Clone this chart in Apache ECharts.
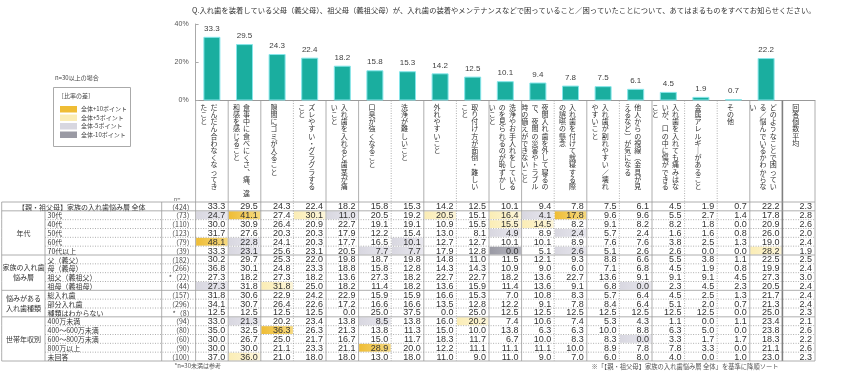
<!DOCTYPE html>
<html><head><meta charset="utf-8">
<script src="https://cdn.jsdelivr.net/npm/echarts@6/dist/echarts.min.js"></script>
<style>html,body{margin:0;padding:0;background:#fff}#c{width:850px;height:374px}</style>
</head><body><div id="c"></div><script>
// ---------- data ----------
const titleText = 'Q.入れ歯を装着している父母（義父母）、祖父母（義祖父母）が、入れ歯の装着やメンテナンスなどで困っていること／困っていたことについて、あてはまるものをすべてお知らせください。';
const categories = [
  'だんだん合わなくなってき\nたこと',
  '食事中に食べにくさ、痛、違\n和感を感じること',
  '隙間にゴミが入ること',
  'ズレやすい・グラグラする\nこと',
  '入れ歯を入れると歯茎が痛\nいこと',
  '口臭が強くなること',
  '洗浄が難しいこと',
  '外れやすいこと',
  '取り付け方が面倒・難しい\nこと',
  '洗浄やお手入れをしている\nのを見られるのが恥ずかし\nいこと',
  '夜間入れ歯を外して寝るの\nで、夜間の災害やトラブル\n時の備えができないこと',
  '入れ歯を付けて就寝する際\nの誤嚥の懸念',
  '入れ歯が割れやすい／壊れ\nやすいこと',
  '他人からの視線（金具が見\nえるなど）が気になる',
  '入れ歯を入れても痛みはな\nいが、口の中に傷ができる\nこと',
  '金属アレルギーがあること',
  'その他',
  'どのようなことで困ってい\nる／悩んでいるかわからな\nい',
  '回答個数平均'
];
const overallBars = [33.3, 29.5, 24.3, 22.4, 18.2, 15.8, 15.3, 14.2, 12.5, 10.1, 9.4, 7.8, 7.5, 6.1, 4.5, 1.9, 0.7, 22.2];
const overallAvg = 2.3;
const yTickLabels = ['0%', '20%', '40%'];

const rowLabels = ['【親・祖父母】家族の入れ歯悩み層 全体', '30代', '40代', '50代', '60代', '70代以上',
  '父（義父）', '母（義母）', '祖父（義祖父）', '祖母（義祖母）',
  '総入れ歯', '部分入れ歯', '種類はわからない',
  '400万未満', '400～600万未満', '600～800万未満', '800万以上', '未回答'];
const rowN = [424, 73, 110, 123, 79, 39, 182, 266, 22, 44, 157, 296, 8, 94, 80, 60, 90, 100];
const groupLabels = ['年代', '家族の入れ歯\n悩み層', '悩みがある\n入れ歯種類', '世帯年収別'];
const groupRanges = [[1, 5], [6, 9], [10, 12], [13, 17]];

const age30 = [24.7, 41.1, 27.4, 30.1, 11.0, 20.5, 19.2, 20.5, 15.1, 16.4, 4.1, 17.8, 9.6, 9.6, 5.5, 2.7, 1.4, 17.8, 2.8];
const age40 = [30.0, 30.9, 26.4, 20.9, 22.7, 19.1, 19.1, 10.9, 15.5, 15.5, 14.5, 8.2, 9.1, 8.2, 8.2, 1.8, 0.0, 20.9, 2.6];
const age50 = [31.7, 27.6, 20.3, 20.3, 17.9, 12.2, 15.4, 13.0, 8.1, 4.9, 8.9, 2.4, 5.7, 2.4, 1.6, 1.6, 0.8, 26.0, 2.0];
const age60 = [48.1, 22.8, 24.1, 20.3, 17.7, 16.5, 10.1, 12.7, 12.7, 10.1, 10.1, 8.9, 7.6, 7.6, 3.8, 2.5, 1.3, 19.0, 2.4];
const age70 = [33.3, 23.1, 25.6, 23.1, 20.5, 7.7, 7.7, 17.9, 12.8, 0.0, 5.1, 2.6, 5.1, 2.6, 2.6, 0.0, 0.0, 28.2, 1.9];
const father = [30.2, 29.7, 25.3, 22.0, 19.8, 18.7, 19.8, 14.8, 11.0, 11.5, 12.1, 9.3, 8.8, 6.6, 5.5, 3.8, 1.1, 22.5, 2.5];
const mother = [36.8, 30.1, 24.8, 23.3, 18.8, 15.8, 12.8, 14.3, 14.3, 10.9, 9.0, 6.0, 7.1, 6.8, 4.5, 1.9, 0.8, 19.9, 2.4];
const grandfather = [27.3, 18.2, 27.3, 18.2, 13.6, 27.3, 18.2, 22.7, 22.7, 18.2, 13.6, 22.7, 13.6, 9.1, 9.1, 9.1, 4.5, 27.3, 3.0];
const grandmother = [27.3, 31.8, 31.8, 25.0, 18.2, 11.4, 18.2, 13.6, 15.9, 11.4, 13.6, 9.1, 6.8, 0.0, 2.3, 4.5, 2.3, 20.5, 2.4];
const fullDenture = [31.8, 30.6, 22.9, 24.2, 22.9, 15.9, 15.9, 16.6, 15.3, 7.0, 10.8, 8.3, 5.7, 6.4, 4.5, 2.5, 1.3, 21.7, 2.4];
const partialDenture = [34.1, 30.7, 26.4, 22.6, 17.2, 16.6, 16.6, 13.5, 12.8, 12.2, 9.1, 7.8, 8.4, 6.4, 5.1, 2.0, 0.7, 21.3, 2.4];
const typeUnknown = [12.5, 12.5, 12.5, 12.5, 0.0, 25.0, 37.5, 0.0, 25.0, 12.5, 12.5, 12.5, 12.5, 12.5, 12.5, 12.5, 0.0, 25.0, 2.3];
const incUnder400 = [33.0, 21.3, 20.2, 23.4, 13.8, 8.5, 13.8, 16.0, 20.2, 7.4, 10.6, 7.4, 5.3, 4.3, 1.1, 0.0, 1.1, 23.4, 2.1];
const inc400to600 = [35.0, 32.5, 36.3, 26.3, 21.3, 13.8, 11.3, 15.0, 10.0, 13.8, 6.3, 6.3, 10.0, 8.8, 6.3, 5.0, 0.0, 23.8, 2.6];
const inc600to800 = [30.0, 26.7, 25.0, 21.7, 16.7, 15.0, 11.7, 18.3, 11.7, 6.7, 10.0, 8.3, 8.3, 0.0, 3.3, 1.7, 1.7, 18.3, 2.2];
const inc800plus = [30.0, 30.0, 21.1, 23.3, 21.1, 28.9, 20.0, 12.2, 11.1, 11.1, 11.1, 10.0, 8.9, 7.8, 7.8, 3.3, 0.0, 21.1, 2.6];
const incNoAnswer = [37.0, 36.0, 21.0, 18.0, 18.0, 13.0, 18.0, 11.0, 9.0, 11.0, 9.0, 7.0, 6.0, 8.0, 4.0, 0.0, 1.0, 23.0, 2.3];

const legendTexts = ['全体+10ポイント', '全体+5ポイント', '全体-5ポイント', '全体-10ポイント'];

// ---------- build ----------
const tableRows = [overallBars.concat([overallAvg]), age30, age40, age50, age60, age70, father, mother,
  grandfather, grandmother, fullDenture, partialDenture, typeUnknown,
  incUnder400, inc400to600, inc600to800, inc800plus, incNoAnswer];

const FONT = "'Noto Sans CJK JP', 'Noto Sans', sans-serif";
const NUMFONT = "'Liberation Sans', Arial, sans-serif";
const LINE = '#9a9a9a';
const LEVEL_COLORS = {
  '2': ['#efbd35', '#f6d97f'],
  '1': ['#fbedb5', '#fdf6da'],
  '-1': ['#d8d7e0', '#e9e8ef'],
  '-2': ['#9a9aa4', '#b7b7c0']
};
const LABEL_BOX_H = 101.5;
const groupStarts = [0, 1, 6, 10, 13];
// column boundary styles: 0 solid, 1 dotted, 2 thick
const colBoundaryStyle = [0, 0, 0, 1, 0, 0, 1, 0, 1, 0, 0, 1, 0, 1, 0, 1, 1, 0, 2, 0];

function level(r, c) {
  if (r === 0 || c === 18 || rowN[r] < 30) return 0;
  const d = Math.round((tableRows[r][c] - tableRows[0][c]) * 10) / 10;
  if (d >= 10) return 2;
  if (d >= 5) return 1;
  if (d <= -10) return -2;
  if (d <= -5) return -1;
  return 0;
}

const cellData = [];
tableRows.forEach((row, r) => row.forEach((v, c) => cellData.push([c, r, v, level(r, c)])));
const vLineData = colBoundaryStyle.map((st, k) => k < 19 ? [k, 0, st, 0] : [18, 0, st, 1]);
const hLineData = [];
for (let r = 0; r <= 18; r++) {
  const st = (groupStarts.includes(r) || r === 18) ? 0 : 1;
  hLineData.push(r < 18 ? [0, r, st, 0] : [0, 17, st, 1]);
}
const leftRowData = rowLabels.map((_, r) => [0, r]);
const groupData = groupRanges.map((g, i) => [0, g[0], g[1], i]);

const VMAP = {'ー': '｜', '（': '︵', '）': '︶', '、': '︑', '「': '﹁', '」': '﹂'};
function verticalize(s) {
  const cols = s.split('\n').map(c => Array.from(c).map(ch => VMAP[ch] || ch));
  const n = Math.max.apply(null, cols.map(c => c.length));
  const lines = [];
  for (let i = 0; i < n; i++) {
    const parts = [];
    for (let j = cols.length - 1; j >= 0; j--) parts.push(cols[j][i] || '\u3000');
    lines.push(parts.join('  '));
  }
  return lines.join('\n');
}

function ln(x1, y1, x2, y2, st) {
  const style = {stroke: st === 2 ? '#808080' : LINE, lineWidth: st === 2 ? 1.6 : 0.8};
  if (st === 1) style.lineDash = [1, 1.5];
  return {type: 'line', shape: {x1, y1, x2, y2}, style};
}

const chart = echarts.init(document.getElementById('c'), null, {renderer: 'canvas'});
chart.setOption({
  animation: false,
  backgroundColor: '#fff',
  title: {
    text: titleText, left: 187, top: 2,
    textStyle: {fontSize: 7.3, fontWeight: 'normal', color: '#333', fontFamily: FONT}
  },
  grid: [
    {left: 195.6, width: 619.4, top: 24, height: 76.5},
    {left: 195.6, width: 619.4, top: 202, height: 159},
    {left: 1.7, width: 193.9, top: 202, height: 159}
  ],
  xAxis: [
    {
      type: 'category', gridIndex: 0, data: categories,
      axisLine: {show: true, lineStyle: {color: '#999', width: 1}},
      axisTick: {show: false},
      axisLabel: {
        interval: 0, fontSize: 7, lineHeight: 7.2, margin: 3, color: '#333',
        fontFamily: FONT, padding: [0, 6, 0, 0], formatter: v => verticalize(v)
      }
    },
    {type: 'category', gridIndex: 1, data: categories.map((_, i) => i), show: false},
    {type: 'value', gridIndex: 2, min: 0, max: 193.9, show: false}
  ],
  yAxis: [
    {
      type: 'value', gridIndex: 0, min: 0, max: 40, interval: 20,
      axisLine: {show: true, lineStyle: {color: '#aaa'}},
      axisTick: {show: true, inside: true, length: 3, lineStyle: {color: '#aaa'}},
      splitLine: {show: false},
      axisLabel: {fontSize: 7, color: '#555', margin: 7, fontFamily: NUMFONT,
        formatter: v => yTickLabels[v / 20]}
    },
    {type: 'category', gridIndex: 1, data: rowLabels, inverse: true, show: false},
    {type: 'category', gridIndex: 2, data: rowLabels, inverse: true, show: false}
  ],
  series: [
    {
      type: 'bar', xAxisIndex: 0, yAxisIndex: 0,
      data: overallBars.concat(['-']),
      barWidth: 17,
      itemStyle: {color: '#1aae9f', borderColor: '#86e6ea', borderWidth: 1},
      label: {show: true, position: 'top', distance: 4, fontSize: 8, color: '#404040',
        fontFamily: NUMFONT, formatter: p => p.value.toFixed(1)}
    },
    {
      type: 'custom', xAxisIndex: 1, yAxisIndex: 1, data: cellData, silent: true, clip: false,
      renderItem: function (params, api) {
        const v = api.value(2), lv = api.value(3);
        const c = api.coord([api.value(0), api.value(1)]);
        const s = api.size([1, 1]);
        const x0 = c[0] - s[0] / 2, y0 = c[1] - s[1] / 2;
        const children = [];
        if (lv !== 0) {
          const cc = LEVEL_COLORS[String(lv)];
          children.push({type: 'rect', shape: {x: x0 + 0.5, y: y0 + 0.5, width: s[0] - 1, height: s[1] - 1},
            style: {fill: new echarts.graphic.LinearGradient(0, 0, 1, 0, [{offset: 0, color: cc[0]}, {offset: 1, color: cc[1]}])}});
        }
        children.push({type: 'text', style: {text: v.toFixed(1), x: x0 + s[0] - 3, y: c[1] + 0.5,
          align: 'right', verticalAlign: 'middle', fontSize: 9, fontFamily: NUMFONT, fill: '#333'}});
        return {type: 'group', children};
      }
    },
    {
      type: 'custom', xAxisIndex: 1, yAxisIndex: 1, data: vLineData, silent: true, clip: false,
      renderItem: function (params, api) {
        const cs = params.coordSys;
        const cw = api.size([1, 0])[0];
        const cx = api.coord([api.value(0), 0])[0];
        const x = api.value(3) ? cx + cw / 2 : cx - cw / 2;
        return ln(x, cs.y - LABEL_BOX_H, x, cs.y + cs.height, api.value(2));
      }
    },
    {
      type: 'custom', xAxisIndex: 1, yAxisIndex: 1, data: hLineData, silent: true, clip: false,
      renderItem: function (params, api) {
        const cs = params.coordSys;
        const rh = api.size([0, 1])[1];
        const cy = api.coord([0, api.value(1)])[1];
        const y = api.value(3) ? cy + rh / 2 : cy - rh / 2;
        return ln(cs.x, y, cs.x + cs.width, y, api.value(2));
      }
    },
    {
      type: 'custom', xAxisIndex: 2, yAxisIndex: 2, data: leftRowData, silent: true, clip: false,
      renderItem: function (params, api) {
        const r = api.value(1);
        const cs = params.coordSys;
        const c = api.coord([0, r]);
        const h = api.size([0, 1])[1];
        const top = c[1] - h / 2, bot = c[1] + h / 2;
        const L = cs.x, R = cs.x + cs.width, xA = L + 43.3, xN = L + 160;
        const gs = groupStarts.includes(r);
        const ch = [];
        ch.push(ln(gs ? L : xA, top, R, top, gs ? 0 : 1));
        if (r === rowLabels.length - 1) ch.push(ln(L, bot, R, bot, 0));
        ch.push(ln(L, top, L, bot, 0));
        if (r > 0) ch.push(ln(xA, top, xA, bot, 0));
        ch.push(ln(xN, top, xN, bot, 0));
        if (r === 0) {
          ch.push({type: 'text', style: {text: rowLabels[r], x: L + 80, y: c[1] + 0.5, align: 'center',
            verticalAlign: 'middle', fontSize: 7, fontFamily: FONT, fill: '#333'}});
        } else {
          ch.push({type: 'text', style: {text: rowLabels[r], x: xA + 2.5, y: c[1] + 0.5, align: 'left',
            verticalAlign: 'middle', fontSize: 7, fontFamily: FONT, fill: '#333'}});
        }
        ch.push({type: 'text', style: {text: (rowN[r] < 30 ? '*' : '') + '（' + rowN[r] + '）', x: L + 192, y: c[1] + 0.5,
          align: 'right', verticalAlign: 'middle', fontSize: 7, fontFamily: FONT, fill: '#444'}});
        return {type: 'group', children: ch};
      }
    },
    {
      type: 'custom', xAxisIndex: 2, yAxisIndex: 2, data: groupData, silent: true, clip: false,
      renderItem: function (params, api) {
        const cs = params.coordSys;
        const y1 = api.coord([0, api.value(1)])[1];
        const y2 = api.coord([0, api.value(2)])[1];
        return {type: 'text', style: {text: groupLabels[api.value(3)], x: cs.x + 21.7, y: (y1 + y2) / 2,
          align: 'center', verticalAlign: 'middle', fontSize: 7, lineHeight: 10, fontFamily: FONT, fill: '#333'}};
      }
    }
  ],
  graphic: [
    {type: 'text', x: 55, y: 78, style: {text: 'n=30以上の場合', fontSize: 6, fill: '#444', fontFamily: FONT, verticalAlign: 'middle'}},
    {type: 'rect', shape: {x: 53.5, y: 87.5, width: 77, height: 59}, style: {fill: '#fff', stroke: '#aaa', lineWidth: 1}},
    {type: 'text', x: 58, y: 96, style: {text: '［比率の差］', fontSize: 6, fill: '#444', fontFamily: FONT, verticalAlign: 'middle'}},
    {type: 'rect', shape: {x: 60, y: 106, width: 17, height: 6.5}, style: {fill: LEVEL_COLORS['2'][0]}},
    {type: 'rect', shape: {x: 60, y: 114.5, width: 17, height: 6.5}, style: {fill: LEVEL_COLORS['1'][0]}},
    {type: 'rect', shape: {x: 60, y: 123, width: 17, height: 6.5}, style: {fill: LEVEL_COLORS['-1'][0]}},
    {type: 'rect', shape: {x: 60, y: 131.5, width: 17, height: 6.5}, style: {fill: LEVEL_COLORS['-2'][0]}},
    {type: 'text', x: 81, y: 109, style: {text: legendTexts[0], fontSize: 6, fill: '#444', fontFamily: FONT, verticalAlign: 'middle'}},
    {type: 'text', x: 81, y: 117.5, style: {text: legendTexts[1], fontSize: 6, fill: '#444', fontFamily: FONT, verticalAlign: 'middle'}},
    {type: 'text', x: 81, y: 126, style: {text: legendTexts[2], fontSize: 6, fill: '#444', fontFamily: FONT, verticalAlign: 'middle'}},
    {type: 'text', x: 81, y: 134.5, style: {text: legendTexts[3], fontSize: 6, fill: '#444', fontFamily: FONT, verticalAlign: 'middle'}},
    {type: 'text', x: 177, y: 198.5, style: {text: 'n=', fontSize: 5.5, fill: '#555', fontFamily: FONT, align: 'center', verticalAlign: 'middle'}},
    {type: 'text', x: 221, y: 366, style: {text: '*n=30未満は参考', fontSize: 6, fill: '#555', fontFamily: FONT, align: 'right', verticalAlign: 'middle'}},
    {type: 'text', x: 685, y: 367, style: {text: '※「【親・祖父母】家族の入れ歯悩み層 全体」を基準に降順ソート', fontSize: 6.3, fill: '#555', fontFamily: FONT, align: 'center', verticalAlign: 'middle'}}
  ]
});
</script></body></html>
